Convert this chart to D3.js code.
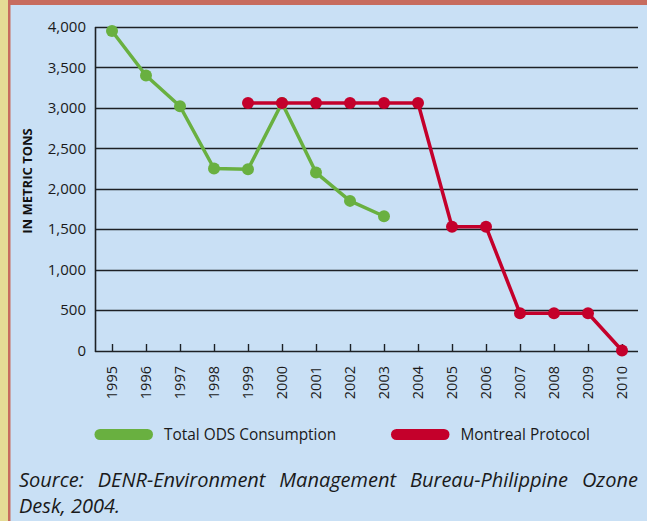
<!DOCTYPE html>
<html>
<head>
<meta charset="utf-8">
<script src="https://cdn.jsdelivr.net/npm/d3@7"></script>
<style>
  body { margin: 0; background: #c9e0f5; }
  svg { display: block; font-family: "Open Sans", "Noto Sans", sans-serif; }
</style>
</head>
<body>
<div class="chart"></div>
<script>
// chart data
var years = ["1995", "1996", "1997", "1998", "1999", "2000", "2001", "2002",
  "2003", "2004", "2005", "2006", "2007", "2008", "2009", "2010"];
var odsYears = ["1995", "1996", "1997", "1998", "1999", "2000", "2001", "2002", "2003"];
var odsValues = [3950, 3400, 3020, 2250, 2240, 3060, 2200, 1850, 1660];
var mpYears = ["1999", "2000", "2001", "2002", "2003", "2004", "2005", "2006",
  "2007", "2008", "2009", "2010"];
var mpValues = [3060, 3060, 3060, 3060, 3060, 3060, 1530, 1530, 460, 460, 460, 0];
var yTicks = [0, 500, 1000, 1500, 2000, 2500, 3000, 3500, 4000];
var seriesNames = ["Total ODS Consumption", "Montreal Protocol"];
var sourceLine1 = "Source: DENR-Environment Management Bureau-Philippine Ozone";
var sourceLine2 = "Desk, 2004.";

var svgWidth = 647;
var svgHeight = 521;
var green = "#69b040";
var red = "#c4002b";

var svg = d3.select(".chart")
  .append("svg")
  .attr("width", svgWidth)
  .attr("height", svgHeight);

// frame: tan strip on the left, red band on top
svg.append("rect").attr("x", 0).attr("y", 0).attr("width", svgWidth).attr("height", svgHeight).attr("fill", "#c9e0f5");
svg.append("rect").attr("x", 0).attr("y", 0).attr("width", 8).attr("height", svgHeight).attr("fill", "#e5dc95");
svg.append("rect").attr("x", 8).attr("y", 0).attr("width", svgWidth - 8).attr("height", 5).attr("fill", "#c76c5e");
svg.append("rect").attr("x", 8).attr("y", 0).attr("width", 2.5).attr("height", svgHeight).attr("fill", "#c76c5e");

var plotLeft = 95, plotRight = 639, plotTop = 27, plotBottom = 350.5;

var xScale = d3.scaleBand().domain(years).range([plotLeft, plotRight]);
var yScale = d3.scaleLinear().domain([0, 4000]).range([plotBottom, plotTop]);
var xc = function(d) { return xScale(d) + xScale.bandwidth() / 2; };

var chart = svg.append("g");

// gridlines
chart.selectAll(".grid")
  .data(yTicks)
  .enter()
  .append("line")
  .attr("x1", plotLeft)
  .attr("x2", plotRight - 1)
  .attr("y1", function(d) { return Math.round(yScale(d)) + 0.5; })
  .attr("y2", function(d) { return Math.round(yScale(d)) + 0.5; })
  .attr("stroke", "#1d2125")
  .attr("stroke-width", 1.4);

// y axis line
chart.append("line")
  .attr("x1", plotLeft + 0.5).attr("x2", plotLeft + 0.5)
  .attr("y1", Math.round(yScale(4000))).attr("y2", Math.round(yScale(0)) + 1)
  .attr("stroke", "#1d2125").attr("stroke-width", 1.6);

// y tick labels
chart.selectAll(".ylab")
  .data(yTicks)
  .enter()
  .append("text")
  .attr("x", 86)
  .attr("y", function(d) { return yScale(d); })
  .attr("dy", "0.35em")
  .attr("text-anchor", "end")
  .attr("font-size", 15)
  .attr("fill", "#1a1a1a")
  .text(function(d) { return d3.format(",")(d); });

// x ticks (pointing up)
chart.selectAll(".xtick")
  .data(years)
  .enter()
  .append("line")
  .attr("x1", function(d) { return Math.round(xc(d)) + 0.5; })
  .attr("x2", function(d) { return Math.round(xc(d)) + 0.5; })
  .attr("y1", Math.round(yScale(0)) + 0.5)
  .attr("y2", Math.round(yScale(0)) - 7)
  .attr("stroke", "#1d2125")
  .attr("stroke-width", 1.4);

// x tick labels, rotated
chart.selectAll(".xlab")
  .data(years)
  .enter()
  .append("text")
  .attr("transform", function(d) { return "translate(" + xc(d) + ",366) rotate(-90)"; })
  .attr("dy", "0.35em")
  .attr("text-anchor", "end")
  .attr("font-size", 14.5)
  .attr("fill", "#1a1a1a")
  .text(function(d) { return d; });

// y axis title
chart.append("text")
  .attr("transform", "translate(27,181) rotate(-90)")
  .attr("dy", "0.35em")
  .attr("text-anchor", "middle")
  .attr("font-size", 13)
  .attr("font-weight", "bold")
  .attr("fill", "#111")
  .text("IN METRIC TONS");

function drawSeries(xs, vs, color) {
  var pts = xs.map(function(d, i) { return [xc(d), yScale(vs[i])]; });
  chart.append("path")
    .datum(pts)
    .attr("d", d3.line())
    .attr("fill", "none")
    .attr("stroke", color)
    .attr("stroke-width", 3.5)
    .attr("stroke-linejoin", "round");
  chart.selectAll(null)
    .data(pts)
    .enter()
    .append("circle")
    .attr("cx", function(p) { return p[0]; })
    .attr("cy", function(p) { return p[1]; })
    .attr("r", 6)
    .attr("fill", color);
}

drawSeries(odsYears, odsValues, green);
drawSeries(mpYears, mpValues, red);

// legend
var legend = [
  { name: seriesNames[0], color: green, x: 100 },
  { name: seriesNames[1], color: red, x: 396.5 }
];
legend.forEach(function(l) {
  svg.append("line")
    .attr("x1", l.x).attr("x2", l.x + 47.5)
    .attr("y1", 434.5).attr("y2", 434.5)
    .attr("stroke", l.color)
    .attr("stroke-width", 11)
    .attr("stroke-linecap", "round");
  svg.append("text")
    .attr("x", l.x + 64)
    .attr("y", 434.5)
    .attr("dy", "0.35em")
    .attr("font-size", 15.4)
    .attr("fill", "#1a1a1a")
    .text(l.name);
});

// source note, justified first line
function justified(str, x0, x1, y) {
  var words = str.split(" ");
  var g = svg.append("g");
  var nodes = words.map(function(w) {
    return g.append("text")
      .attr("y", y)
      .attr("font-size", 20)
      .attr("font-style", "italic")
      .attr("fill", "#1a1a1a")
      .text(w);
  });
  var widths = nodes.map(function(n) { return n.node().getComputedTextLength(); });
  var gap = (x1 - x0 - d3.sum(widths)) / (words.length - 1);
  var x = x0;
  nodes.forEach(function(n, i) {
    n.attr("x", x);
    x += widths[i] + gap;
  });
}
justified(sourceLine1, 19, 638, 487);
svg.append("text")
  .attr("x", 19).attr("y", 513)
  .attr("font-size", 20)
  .attr("font-style", "italic")
  .attr("fill", "#1a1a1a")
  .text(sourceLine2);
</script>
</body>
</html>
